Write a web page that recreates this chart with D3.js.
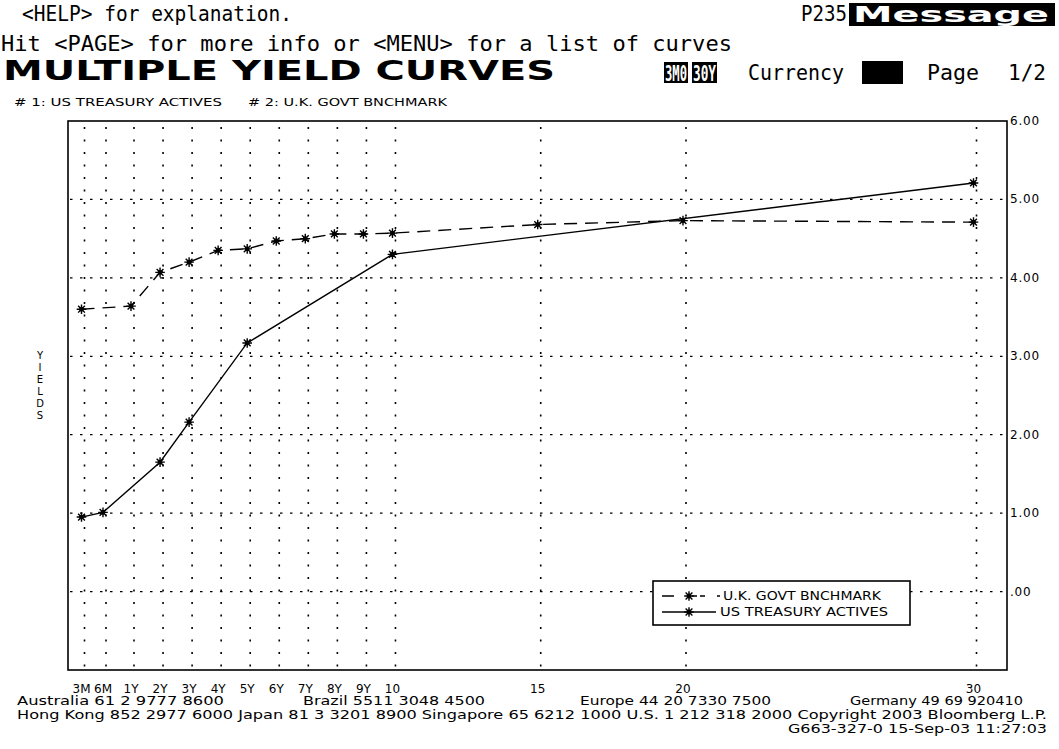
<!DOCTYPE html>
<html>
<head>
<meta charset="utf-8">
<script src="https://cdn.jsdelivr.net/npm/d3@7"></script>
<style>
  body { margin: 0; background: #fff; }
  text { fill: #000; }
  .mono { font-family: "DejaVu Sans Mono", monospace; }
  .sans { font-family: "DejaVu Sans", sans-serif; }
</style>
</head>
<body>
<div id="chart"></div>
<script>
// x axis tenors (in years) and their labels
var tenorYears = [0.25, 0.5, 1, 2, 3, 4, 5, 6, 7, 8, 9, 10, 15, 20, 30];
var tenorLabels = ["3M", "6M", "1Y", "2Y", "3Y", "4Y", "5Y", "6Y", "7Y", "8Y", "9Y", "10", "15", "20", "30"];

// # 1: US TREASURY ACTIVES
var usTenors = [0.25, 0.5, 2, 3, 5, 10, 30];
var usYields = [0.95, 1.01, 1.65, 2.16, 3.17, 4.30, 5.21];

// # 2: U.K. GOVT BNCHMARK
var ukTenors = [0.25, 1, 2, 3, 4, 5, 6, 7, 8, 9, 10, 15, 20, 30];
var ukYields = [3.60, 3.64, 4.07, 4.20, 4.35, 4.37, 4.47, 4.50, 4.56, 4.56, 4.57, 4.68, 4.73, 4.71];

var yTicks = [0, 1, 2, 3, 4, 5, 6];
var yTickLabels = [".00", "1.00", "2.00", "3.00", "4.00", "5.00", "6.00"];

var footer = [
  ["Australia 61 2 9777 8600", 17, 705, 207],
  ["Brazil 5511 3048 4500", 303, 705, 182],
  ["Europe 44 20 7330 7500", 580, 705, 191],
  ["Germany 49 69 920410", 850, 705, 173],
  ["Hong Kong 852 2977 6000 Japan 81 3 3201 8900 Singapore 65 6212 1000 U.S. 1 212 318 2000 Copyright 2003 Bloomberg L.P.", 17, 719, 1030],
  ["G663-327-0 15-Sep-03 11:27:03", 788, 733, 259]
];

var W = 1059, H = 749;
var pLeft = 68, pRight = 1007, pTop = 121, pBottom = 670;

var svg = d3.select("#chart").append("svg")
  .attr("width", W)
  .attr("height", H);

var x = d3.scaleLinear()
  .domain([0.25, 0.5, 1, 30])
  .range([81.5, 103, 131, 973.5]);

var y = d3.scaleLinear()
  .domain([-1, 6])
  .range([pBottom, pTop]);

function txt(s, px, py, len, cls, size, weight) {
  var t = svg.append("text")
    .attr("class", cls)
    .attr("x", px)
    .attr("y", py)
    .style("font-size", size + "px")
    .style("font-weight", weight || "normal")
    .text(s);
  if (len) t.attr("textLength", len).attr("lengthAdjust", "spacingAndGlyphs");
  return t;
}

// ---- header
txt("<HELP> for explanation.", 22, 21, 270, "mono", 21);
txt("Hit <PAGE> for more info or <MENU> for a list of curves", 1, 51, 731, "mono", 21);
txt("P235", 801, 21, 46, "mono", 21);
svg.append("rect").attr("x", 849).attr("y", 3).attr("width", 206).attr("height", 23).attr("fill", "#000");
txt("Message", 853, 22, 196, "sans", 22, "bold").style("fill", "#fff");

txt("MULTIPLE YIELD CURVES", 3, 80, 552, "sans", 27, "bold");

svg.append("rect").attr("x", 664).attr("y", 62).attr("width", 24).attr("height", 21).attr("fill", "#000");
txt("3M0", 665, 81, 22, "mono", 22, "bold").style("fill", "#fff");
svg.append("rect").attr("x", 692).attr("y", 62).attr("width", 25).attr("height", 21).attr("fill", "#000");
txt("30Y", 693, 81, 23, "mono", 22, "bold").style("fill", "#fff");
txt("Currency", 748, 80, 96, "mono", 21);
svg.append("rect").attr("x", 862).attr("y", 61).attr("width", 41).attr("height", 23).attr("fill", "#000");
txt("Page", 927, 80, 52, "mono", 21);
txt("1/2", 1008, 80, 38, "mono", 21);

txt("# 1: US TREASURY ACTIVES", 14, 106, 208, "sans", 10);
txt("# 2: U.K. GOVT BNCHMARK", 248, 106, 199, "sans", 10);

// ---- grid
var g = svg.append("g");

g.selectAll(".vgrid")
  .data(tenorYears)
  .enter()
  .append("line")
    .attr("class", "vgrid")
    .attr("x1", function(d) { return x(d) + 3; })
    .attr("x2", function(d) { return x(d) + 3; })
    .attr("y1", pTop + 6)
    .attr("y2", pBottom)
    .style("stroke", "#000")
    .style("stroke-width", 1.6)
    .style("stroke-dasharray", "2,10.5");

g.selectAll(".hgrid")
  .data(yTicks.slice(0, 6))
  .enter()
  .append("line")
    .attr("class", "hgrid")
    .attr("x1", pLeft + 2)
    .attr("x2", pRight)
    .attr("y1", function(d) { return y(d); })
    .attr("y2", function(d) { return y(d); })
    .style("stroke", "#000")
    .style("stroke-width", 1.2)
    .style("stroke-dasharray", "2.5,7.5");

// frame
svg.append("rect")
  .attr("x", pLeft)
  .attr("y", pTop)
  .attr("width", pRight - pLeft)
  .attr("height", pBottom - pTop)
  .attr("fill", "none")
  .style("stroke", "#000")
  .style("stroke-width", 1.6);

// right axis labels
svg.selectAll(".ylab")
  .data(yTicks)
  .enter()
  .append("text")
    .attr("class", "sans")
    .attr("x", pRight + 3)
    .attr("y", function(d) { return y(d) + 4; })
    .style("font-size", "12px")
    .style("letter-spacing", "0.8px")
    .text(function(d, i) { return yTickLabels[i]; });

// bottom axis labels
svg.selectAll(".xlab")
  .data(tenorYears)
  .enter()
  .append("text")
    .attr("class", "sans")
    .attr("x", function(d) { return x(d); })
    .attr("y", 693)
    .attr("text-anchor", "middle")
    .style("font-size", "12px")
    .text(function(d, i) { return tenorLabels[i]; });

// YIELDS vertical label
svg.selectAll(".ytitle")
  .data("YIELDS".split(""))
  .enter()
  .append("text")
    .attr("class", "sans")
    .attr("x", 40)
    .attr("y", function(d, i) { return 359 + i * 12; })
    .attr("text-anchor", "middle")
    .style("font-size", "10px")
    .text(function(d) { return d; });

// ---- curves
function star(sel, px, py) {
  var r = 4.8, d = "";
  for (var k = 0; k < 4; k++) {
    var a = k * Math.PI / 4;
    d += "M" + (px - r * Math.cos(a)) + "," + (py - r * Math.sin(a)) +
         "L" + (px + r * Math.cos(a)) + "," + (py + r * Math.sin(a));
  }
  sel.append("path").attr("d", d).style("stroke", "#000").style("stroke-width", 1.4);
  sel.append("circle").attr("cx", px).attr("cy", py).attr("r", 2.4).attr("fill", "#000");
}

var line = d3.line()
  .x(function(d) { return x(d[0]); })
  .y(function(d) { return y(d[1]); });

var ukData = d3.zip(ukTenors, ukYields);
var usData = d3.zip(usTenors, usYields);

svg.append("path")
  .datum(ukData)
  .attr("d", line)
  .attr("fill", "none")
  .style("stroke", "#000")
  .style("stroke-width", 1.4)
  .style("stroke-dasharray", "13,8");

svg.append("path")
  .datum(usData)
  .attr("d", line)
  .attr("fill", "none")
  .style("stroke", "#000")
  .style("stroke-width", 1.4);

var marks = svg.append("g");
ukData.forEach(function(d) { star(marks, x(d[0]), y(d[1])); });
usData.forEach(function(d) { star(marks, x(d[0]), y(d[1])); });

// ---- legend
var lg = svg.append("g");
lg.append("rect")
  .attr("x", 653).attr("y", 581)
  .attr("width", 257).attr("height", 44)
  .attr("fill", "#fff")
  .style("stroke", "#000")
  .style("stroke-width", 1.6);
lg.append("line")
  .attr("x1", 662).attr("x2", 720).attr("y1", 596).attr("y2", 596)
  .style("stroke", "#000").style("stroke-width", 1.4)
  .style("stroke-dasharray", "12,10,0,8,5,3,5");
star(lg, 689, 596);
lg.append("line")
  .attr("x1", 662).attr("x2", 716).attr("y1", 612).attr("y2", 612)
  .style("stroke", "#000").style("stroke-width", 1.4);
star(lg, 689, 612);
lg.append("text").attr("class", "sans").attr("x", 723).attr("y", 600)
  .style("font-size", "12px").attr("textLength", 158).attr("lengthAdjust", "spacingAndGlyphs")
  .text("U.K. GOVT BNCHMARK");
lg.append("text").attr("class", "sans").attr("x", 720).attr("y", 616)
  .style("font-size", "12px").attr("textLength", 168).attr("lengthAdjust", "spacingAndGlyphs")
  .text("US TREASURY ACTIVES");

// ---- footer
footer.forEach(function(f) {
  txt(f[0], f[1], f[2], f[3], "sans", 11.5);
});
</script>
</body>
</html>
